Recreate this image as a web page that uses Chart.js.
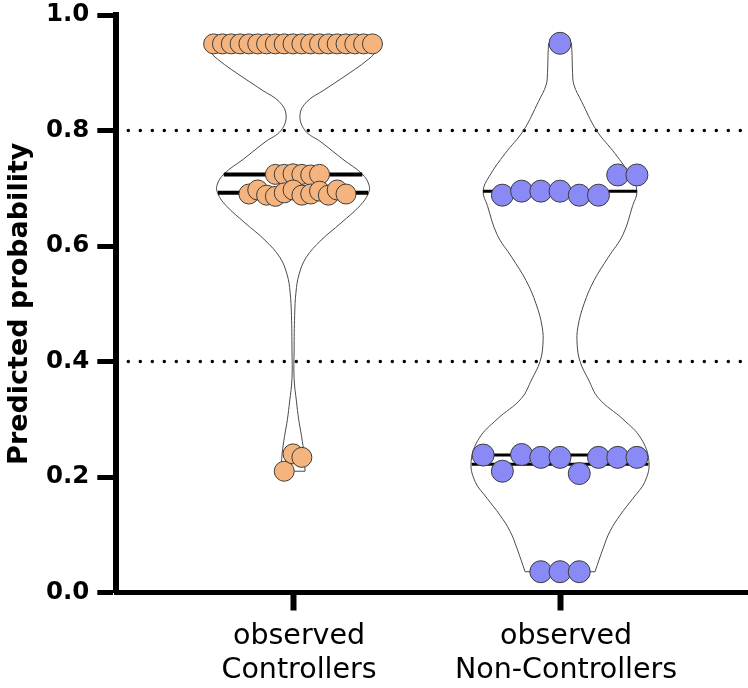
<!DOCTYPE html>
<html><head><meta charset="utf-8">
<script src="https://cdn.jsdelivr.net/npm/chart.js@4.4.1/dist/chart.umd.min.js"></script>
<style>html,body{margin:0;padding:0;background:#fff}#wrap{width:748px;height:688px}</style>
</head><body><div id="wrap"><canvas id="c" width="748" height="688"></canvas></div>
<script>
// ---------- data ----------
const categories = [['observed', 'Controllers'], ['observed', 'Non-Controllers']];
const categoryX = [1, 2];
const yTickValues = [0, 0.2, 0.4, 0.6, 0.8, 1.0];
const thresholds = [0.8, 0.4];

// Controllers: clusters (rows of the scatter)
const ctrlTop = [0.95,0.95,0.95,0.95,0.95,0.95,0.95,0.95,0.95,0.95,0.95,0.95,0.95,0.95,0.95,0.95,0.95,0.95,0.95];
const ctrlUpper = [0.724,0.724,0.725,0.724,0.723,0.724];
const ctrlLower = [0.69,0.697,0.688,0.686,0.692,0.697,0.688,0.69,0.695,0.688,0.697,0.69];
const ctrlLow = [0.21,0.24,0.234];
const ctrlQuartiles = [0.692, 0.724, 0.95];

// Non-Controllers
const ncTop = [0.951];
const ncUpper = [0.688,0.695,0.695,0.695,0.688,0.688,0.723,0.723];
const ncLower = [0.238,0.21,0.239,0.234,0.234,0.206,0.234,0.234,0.234];
const ncBottom = [0.036,0.036,0.036];
const ncQuartiles = [0.222, 0.238, 0.695];

// violin outlines: level and half-width (x-axis units)
const ctrlViolinY = [0.95,0.935,0.92,0.90,0.87,0.85,0.827,0.80,0.78,0.75,0.725,0.705,0.69,0.67,0.64,0.61,0.58,0.55,0.52,0.48,0.42,0.37,0.33,0.30,0.27,0.24,0.21];
const ctrlViolinW = [0.315,0.307,0.273,0.213,0.116,0.052,0.026,0.045,0.105,0.187,0.258,0.285,0.281,0.251,0.180,0.105,0.049,0.022,0.011,0.006,0.004,0.004,0.013,0.021,0.032,0.041,0.045];
const ncViolinY = [0.951,0.93,0.90,0.879,0.85,0.80,0.76,0.72,0.695,0.67,0.62,0.58,0.54,0.50,0.46,0.43,0.40,0.37,0.336,0.30,0.267,0.227,0.192,0.163,0.134,0.106,0.076,0.036];
const ncViolinW = [0.043,0.045,0.047,0.052,0.081,0.137,0.206,0.266,0.288,0.272,0.236,0.180,0.127,0.090,0.067,0.064,0.075,0.105,0.145,0.236,0.303,0.333,0.318,0.273,0.225,0.187,0.161,0.131];

// ---------- styling / layout constants ----------
const X_MIN = 0.338, X_MAX = 2.704;
const POINT_STEP = 0.072;   // one dot diameter in x units
const MAX_SPAN = 0.595;     // widest allowed scatter row
const FONT = 'DejaVu Sans';

function swarm(rows, center) {
  const maxRow = Math.max(...rows.map(r => r.length));
  const step = maxRow > 1 ? Math.min(POINT_STEP, MAX_SPAN / (maxRow - 1)) : POINT_STEP;
  const pts = [];
  rows.forEach(row => {
    const n = row.length;
    const shift = n % 2 === 0 ? step / 2 : 0;
    row.forEach((v, i) => pts.push({x: center + (i - (n - 1) / 2) * step + shift, y: v}));
  });
  return pts;
}
function halfWidthAt(ys, ws, y) {
  for (let i = 0; i < ys.length - 1; i++) {
    const a = ys[i], b = ys[i + 1];
    if ((y <= a && y >= b)) { const t = (a - y) / (a - b); return ws[i] + t * (ws[i + 1] - ws[i]); }
  }
  return y > ys[0] ? ws[0] : ws[ws.length - 1];
}
function violinSets(ys, ws, c) {
  const base = {type: 'line', showLine: true, fill: false, pointRadius: 0, borderColor: '#4a4a4a', borderWidth: 1, order: 2};
  const n = ys.length - 1;
  return [
    {...base, tension: 0.4, data: ys.map((y, i) => ({x: c + ws[i], y}))},
    {...base, tension: 0.4, data: ys.map((y, i) => ({x: c - ws[i], y}))},
    {...base, tension: 0, data: [{x: c - ws[0], y: ys[0]}, {x: c + ws[0], y: ys[0]}]},
    {...base, tension: 0, data: [{x: c - ws[n], y: ys[n]}, {x: c + ws[n], y: ys[n]}]}
  ];
}
function quartileSets(qs, ys, ws, c, width) {
  return qs.map(q => {
    const h = halfWidthAt(ys, ws, q);
    return {type: 'line', showLine: true, fill: false, pointRadius: 0, borderColor: '#000', borderWidth: width, order: 1,
      data: [{x: c - h, y: q}, {x: c + h, y: q}]};
  });
}

const datasets = [
  {data: swarm([ctrlTop, ctrlUpper, ctrlLower, ctrlLow], categoryX[0]), pointRadius: 10, pointHoverRadius: 10,
   backgroundColor: '#F5B47D', borderColor: '#3c3c3c', borderWidth: 1, order: 0},
  {data: swarm([ncTop, ncUpper, ncLower, ncBottom], categoryX[1]), pointRadius: 11, pointHoverRadius: 11,
   backgroundColor: '#8A8AF6', borderColor: '#3c3c3c', borderWidth: 1, order: 0},
  ...quartileSets(ctrlQuartiles, ctrlViolinY, ctrlViolinW, categoryX[0], 4),
  ...quartileSets(ncQuartiles, ncViolinY, ncViolinW, categoryX[1], 3),
  ...violinSets(ctrlViolinY, ctrlViolinW, categoryX[0]),
  ...violinSets(ncViolinY, ncViolinW, categoryX[1]),
  ...thresholds.map(t => ({type: 'line', showLine: true, fill: false, pointRadius: 0, borderColor: '#000',
    borderWidth: 3.5, borderDash: [0, 12], borderCapStyle: 'round', order: 3,
    data: [{x: X_MIN, y: t}, {x: X_MAX, y: t}]}))
];

new Chart(document.getElementById('c'), {
  type: 'scatter',
  data: {datasets},
  options: {
    responsive: false, animation: false, devicePixelRatio: 1,
    layout: {autoPadding: false, padding: {top: 15, right: 0, bottom: 0, left: 0}},
    plugins: {legend: {display: false}, tooltip: {enabled: false}},
    scales: {
      x: {
        type: 'linear', min: X_MIN, max: X_MAX,
        afterBuildTicks: s => { s.ticks = categoryX.map(v => ({value: v})); },
        afterFit: s => { s.height = 95.5; s.paddingLeft = 0; s.paddingRight = 0; },
        ticks: {callback: v => categories[categoryX.indexOf(v)], font: {family: FONT, size: 28.5}, color: '#000',
          padding: 9, maxRotation: 0, autoSkip: false, labelOffset: 6},
        grid: {drawOnChartArea: false, drawTicks: true, tickLength: 18, tickWidth: 6, tickColor: '#000'},
        border: {display: true, width: 5, color: '#000'}
      },
      y: {
        type: 'linear', min: 0, max: 1,
        afterBuildTicks: s => { s.ticks = yTickValues.map(v => ({value: v})); },
        afterFit: s => { s.width = 116.3; s.paddingTop = 0; s.paddingBottom = 0; },
        ticks: {callback: v => v.toFixed(1), font: {family: FONT, size: 24.5, weight: 'bold'}, color: '#000', padding: 8},
        grid: {drawOnChartArea: false, drawTicks: true, tickLength: 19, tickWidth: 5, tickColor: '#000'},
        border: {display: true, width: 6, color: '#000'},
        title: {display: true, text: 'Predicted probability', color: '#000',
          font: {family: FONT, size: 27, weight: 'bold'}, padding: {top: 4, bottom: 0}}
      }
    }
  }
});
</script></body></html>
